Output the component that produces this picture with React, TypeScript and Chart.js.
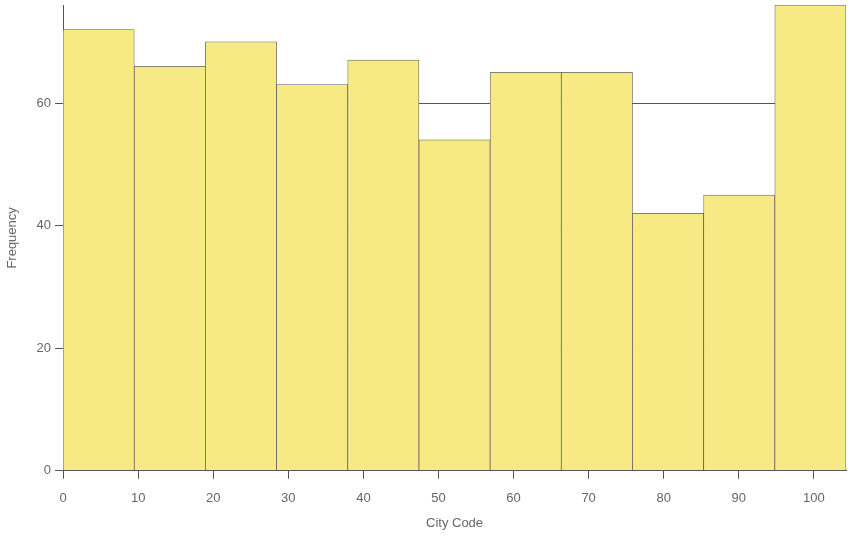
import React, { useEffect, useRef } from "react";
import { Chart, registerables } from "chart.js";

Chart.register(...registerables);

// Histogram bin centres (City Code) and counts
const binCenters = [4.74, 14.22, 23.7, 33.18, 42.66, 52.14, 61.62, 71.1, 80.58, 90.06, 99.54];
const frequencies = [72, 66, 70, 63, 67, 54, 65, 65, 42, 45, 76];
const xMax = 104.28;
const yMax = 76;
const xTitle = "City Code";
const yTitle = "Frequency";

export default function App() {
  const ref = useRef<HTMLCanvasElement | null>(null);

  useEffect(() => {
    document.body.style.margin = "0";
    const ctx = ref.current!.getContext("2d")!;
    const font = { family: "'Liberation Sans', Arial, sans-serif", size: 13 };
    const textColor = "#666";
    const axisColor = "#555";
    const chart = new Chart(ctx, {
      type: "bar",
      data: {
        datasets: [
          {
            data: binCenters.map((x, i) => ({ x, y: frequencies[i] })),
            backgroundColor: "#F7EA85",
            borderColor: "#5f5f5f",
            borderWidth: 0.75,
            borderSkipped: false,
            barPercentage: 1,
            categoryPercentage: 1,
          },
        ],
      },
      options: {
        responsive: false,
        animation: false,
        layout: { padding: { top: 5, right: 6, left: 0, bottom: 4 } },
        plugins: { legend: { display: false }, tooltip: { enabled: false } },
        scales: {
          x: {
            type: "linear",
            min: 0,
            max: xMax,
            offset: false,
            grid: { drawOnChartArea: false, drawTicks: true, tickLength: 8, color: axisColor, offset: false },
            border: { display: true, color: axisColor },
            ticks: { stepSize: 10, includeBounds: false, padding: 12, color: textColor, font, maxRotation: 0 },
            title: { display: true, text: xTitle, color: textColor, font, padding: { top: -3, bottom: 8 } },
            afterFit: (s: any) => {
              s.paddingLeft = 0;
              s.paddingRight = 0;
            },
          },
          y: {
            min: 0,
            max: yMax,
            grid: { drawOnChartArea: true, drawTicks: true, tickLength: 8, color: axisColor },
            border: { display: true, color: axisColor },
            ticks: { stepSize: 20, includeBounds: false, padding: 4, color: textColor, font },
            title: { display: true, text: yTitle, color: textColor, font, padding: { top: 5, bottom: 12 } },
            afterFit: (s: any) => {
              s.paddingTop = 0;
              s.paddingBottom = 0;
            },
          },
        },
      },
    });
    return () => chart.destroy();
  }, []);

  return (
    <div style={{ width: 852, height: 543, background: "#fff" }}>
      <canvas ref={ref} width={852} height={543} />
    </div>
  );
}
